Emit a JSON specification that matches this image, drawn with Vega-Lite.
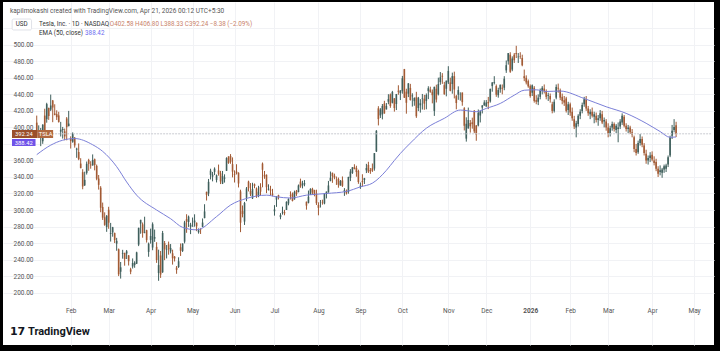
{
  "$schema": "https://vega.github.io/schema/vega-lite/v6.json",
  "width": 711,
  "height": 343,
  "autosize": {"type": "none"},
  "padding": {"left": 3, "top": 2, "right": 6, "bottom": 6},
  "background": "#000000",
  "config": {"view": {"fill": "#ffffff", "stroke": null}, "font": "Roboto", "axis": {"labelOverlap": false}},
  "title": {"text": "kapilmokashi created with TradingView.com, Apr 21, 2026 00:12 UTC+5:30", "anchor": "start", "frame": "group", "orient": "top", "offset": 0, "dy": 12, "dx": 7, "fontSize": 6.5, "fontWeight": "normal", "color": "#555555", "font": "Roboto"},
  "datasets": {
    "candles": [
      {"d":"2025-01-07","i":-17,"o":405.8,"h":414.3,"l":390.0,"c":394.4},
      {"d":"2025-01-08","i":-16,"o":393.0,"h":402.5,"l":387.4,"c":394.9},
      {"d":"2025-01-10","i":-15,"o":391.4,"h":399.3,"l":377.3,"c":394.7},
      {"d":"2025-01-13","i":-14,"o":383.2,"h":403.8,"l":380.1,"c":403.3},
      {"d":"2025-01-14","i":-13,"o":414.3,"h":422.6,"l":394.5,"c":396.4},
      {"d":"2025-01-15","i":-12,"o":409.9,"h":429.8,"l":405.7,"c":428.2},
      {"d":"2025-01-16","i":-11,"o":423.5,"h":424.0,"l":409.1,"c":413.8},
      {"d":"2025-01-17","i":-10,"o":421.5,"h":439.7,"l":419.8,"c":426.5},
      {"d":"2025-01-21","i":-9,"o":432.6,"h":433.2,"l":406.3,"c":424.1},
      {"d":"2025-01-22","i":-8,"o":416.8,"h":428.0,"l":414.6,"c":415.1},
      {"d":"2025-01-23","i":-7,"o":416.1,"h":420.7,"l":409.0,"c":412.4},
      {"d":"2025-01-24","i":-6,"o":414.5,"h":418.9,"l":405.8,"c":406.6},
      {"d":"2025-01-27","i":-5,"o":394.8,"h":406.7,"l":389.0,"c":397.2},
      {"d":"2025-01-28","i":-4,"o":396.9,"h":400.6,"l":386.5,"c":398.1},
      {"d":"2025-01-29","i":-3,"o":395.2,"h":398.6,"l":384.5,"c":389.1},
      {"d":"2025-01-30","i":-2,"o":410.8,"h":412.5,"l":384.4,"c":400.3},
      {"d":"2025-01-31","i":-1,"o":401.5,"h":420.0,"l":401.3,"c":404.6},
      {"d":"2025-02-03","i":0,"o":386.7,"h":389.2,"l":374.4,"c":383.7},
      {"d":"2025-02-04","i":1,"o":382.6,"h":394.0,"l":381.4,"c":392.2},
      {"d":"2025-02-05","i":2,"o":387.5,"h":388.4,"l":375.5,"c":378.2},
      {"d":"2025-02-06","i":3,"o":373.0,"h":375.4,"l":363.2,"c":374.3},
      {"d":"2025-02-07","i":4,"o":370.2,"h":380.6,"l":360.3,"c":361.6},
      {"d":"2025-02-10","i":5,"o":356.2,"h":362.7,"l":350.5,"c":350.7},
      {"d":"2025-02-11","i":6,"o":345.8,"h":349.4,"l":325.1,"c":328.5},
      {"d":"2025-02-12","i":7,"o":329.9,"h":346.4,"l":329.1,"c":336.5},
      {"d":"2025-02-13","i":8,"o":345.0,"h":358.7,"l":342.9,"c":355.9},
      {"d":"2025-02-14","i":9,"o":360.6,"h":362.0,"l":347.5,"c":355.8},
      {"d":"2025-02-18","i":10,"o":355.0,"h":359.1,"l":350.0,"c":354.1},
      {"d":"2025-02-19","i":11,"o":354.0,"h":367.3,"l":353.7,"c":360.6},
      {"d":"2025-02-20","i":12,"o":361.5,"h":362.3,"l":348.0,"c":354.4},
      {"d":"2025-02-21","i":13,"o":353.4,"h":355.0,"l":336.0,"c":337.8},
      {"d":"2025-02-24","i":14,"o":338.1,"h":342.4,"l":324.7,"c":330.5},
      {"d":"2025-02-25","i":15,"o":327.0,"h":328.9,"l":297.3,"c":302.8},
      {"d":"2025-02-26","i":16,"o":303.7,"h":309.0,"l":288.0,"c":290.8},
      {"d":"2025-02-27","i":17,"o":291.2,"h":297.2,"l":280.9,"c":282.0},
      {"d":"2025-02-28","i":18,"o":279.5,"h":293.9,"l":273.6,"c":293.0},
      {"d":"2025-03-03","i":19,"o":300.3,"h":303.9,"l":277.3,"c":284.7},
      {"d":"2025-03-04","i":20,"o":270.9,"h":284.4,"l":261.8,"c":272.0},
      {"d":"2025-03-05","i":21,"o":272.9,"h":279.6,"l":267.7,"c":279.1},
      {"d":"2025-03-06","i":22,"o":272.1,"h":272.7,"l":260.0,"c":263.5},
      {"d":"2025-03-07","i":23,"o":259.3,"h":266.3,"l":250.7,"c":262.7},
      {"d":"2025-03-10","i":24,"o":252.5,"h":253.4,"l":220.0,"c":222.2},
      {"d":"2025-03-11","i":25,"o":225.3,"h":237.1,"l":217.0,"c":230.6},
      {"d":"2025-03-12","i":26,"o":247.2,"h":251.8,"l":241.1,"c":248.1},
      {"d":"2025-03-13","i":27,"o":248.1,"h":248.3,"l":232.6,"c":240.7},
      {"d":"2025-03-14","i":28,"o":247.3,"h":251.6,"l":240.7,"c":250.0},
      {"d":"2025-03-17","i":29,"o":245.1,"h":245.4,"l":232.8,"c":238.0},
      {"d":"2025-03-18","i":30,"o":228.2,"h":230.1,"l":222.3,"c":225.3},
      {"d":"2025-03-19","i":31,"o":231.6,"h":241.4,"l":229.2,"c":235.9},
      {"d":"2025-03-20","i":32,"o":233.4,"h":238.0,"l":230.1,"c":236.3},
      {"d":"2025-03-21","i":33,"o":235.0,"h":249.5,"l":234.6,"c":248.7},
      {"d":"2025-03-24","i":34,"o":258.1,"h":278.6,"l":256.3,"c":278.4},
      {"d":"2025-03-25","i":35,"o":283.6,"h":288.2,"l":271.3,"c":288.1},
      {"d":"2025-03-26","i":36,"o":282.7,"h":284.9,"l":266.5,"c":272.1},
      {"d":"2025-03-27","i":37,"o":272.5,"h":291.9,"l":271.8,"c":273.1},
      {"d":"2025-03-28","i":38,"o":275.6,"h":276.1,"l":260.6,"c":263.6},
      {"d":"2025-03-31","i":39,"o":249.3,"h":260.6,"l":243.4,"c":259.2},
      {"d":"2025-04-01","i":40,"o":263.8,"h":277.5,"l":259.3,"c":268.5},
      {"d":"2025-04-02","i":41,"o":254.6,"h":285.0,"l":251.3,"c":282.8},
      {"d":"2025-04-03","i":42,"o":265.3,"h":276.3,"l":261.5,"c":267.3},
      {"d":"2025-04-04","i":43,"o":255.4,"h":261.0,"l":236.0,"c":239.4},
      {"d":"2025-04-07","i":44,"o":223.8,"h":252.0,"l":214.3,"c":233.3},
      {"d":"2025-04-08","i":45,"o":245.0,"h":250.4,"l":217.8,"c":221.9},
      {"d":"2025-04-09","i":46,"o":224.7,"h":274.7,"l":223.9,"c":272.2},
      {"d":"2025-04-10","i":47,"o":260.0,"h":262.5,"l":239.3,"c":252.4},
      {"d":"2025-04-11","i":48,"o":251.8,"h":257.7,"l":241.4,"c":252.3},
      {"d":"2025-04-14","i":49,"o":258.4,"h":261.8,"l":245.9,"c":252.4},
      {"d":"2025-04-15","i":50,"o":249.9,"h":258.8,"l":247.5,"c":254.1},
      {"d":"2025-04-16","i":51,"o":247.6,"h":252.0,"l":233.9,"c":241.6},
      {"d":"2025-04-17","i":52,"o":243.5,"h":244.3,"l":237.7,"c":241.4},
      {"d":"2025-04-21","i":53,"o":230.3,"h":232.2,"l":222.8,"c":227.5},
      {"d":"2025-04-22","i":54,"o":231.0,"h":242.8,"l":229.9,"c":238.0},
      {"d":"2025-04-23","i":55,"o":254.9,"h":259.5,"l":244.4,"c":250.7},
      {"d":"2025-04-24","i":56,"o":250.5,"h":259.5,"l":249.2,"c":259.5},
      {"d":"2025-04-25","i":57,"o":261.7,"h":286.9,"l":259.6,"c":285.0},
      {"d":"2025-04-28","i":58,"o":289.0,"h":294.9,"l":272.4,"c":285.9},
      {"d":"2025-04-29","i":59,"o":285.5,"h":293.3,"l":279.5,"c":292.0},
      {"d":"2025-04-30","i":60,"o":279.9,"h":284.5,"l":270.8,"c":282.2},
      {"d":"2025-05-01","i":61,"o":280.0,"h":290.9,"l":279.8,"c":280.5},
      {"d":"2025-05-02","i":62,"o":284.9,"h":294.8,"l":279.8,"c":287.2},
      {"d":"2025-05-05","i":63,"o":284.6,"h":284.9,"l":274.4,"c":280.3},
      {"d":"2025-05-06","i":64,"o":273.1,"h":277.7,"l":271.4,"c":275.4},
      {"d":"2025-05-07","i":65,"o":276.9,"h":277.9,"l":271.0,"c":276.2},
      {"d":"2025-05-08","i":66,"o":279.6,"h":289.8,"l":279.4,"c":284.8},
      {"d":"2025-05-09","i":67,"o":290.2,"h":307.0,"l":290.0,"c":298.3},
      {"d":"2025-05-12","i":68,"o":322.0,"h":322.2,"l":311.5,"c":318.4},
      {"d":"2025-05-13","i":69,"o":320.0,"h":337.6,"l":316.8,"c":334.1},
      {"d":"2025-05-14","i":70,"o":342.5,"h":350.0,"l":337.0,"c":347.7},
      {"d":"2025-05-15","i":71,"o":340.3,"h":346.1,"l":334.7,"c":342.8},
      {"d":"2025-05-16","i":72,"o":346.2,"h":351.6,"l":342.3,"c":350.0},
      {"d":"2025-05-19","i":73,"o":336.3,"h":343.0,"l":333.4,"c":342.1},
      {"d":"2025-05-20","i":74,"o":347.9,"h":355.0,"l":341.6,"c":343.8},
      {"d":"2025-05-21","i":75,"o":344.4,"h":347.4,"l":331.4,"c":334.6},
      {"d":"2025-05-22","i":76,"o":331.9,"h":347.3,"l":331.4,"c":341.0},
      {"d":"2025-05-23","i":77,"o":337.9,"h":343.2,"l":333.2,"c":339.3},
      {"d":"2025-05-27","i":78,"o":347.4,"h":363.8,"l":347.3,"c":362.9},
      {"d":"2025-05-28","i":79,"o":364.8,"h":365.0,"l":355.9,"c":356.9},
      {"d":"2025-05-29","i":80,"o":365.3,"h":367.7,"l":356.0,"c":358.4},
      {"d":"2025-05-30","i":81,"o":355.5,"h":363.7,"l":339.5,"c":346.5},
      {"d":"2025-06-02","i":82,"o":343.5,"h":348.0,"l":333.3,"c":342.7},
      {"d":"2025-06-03","i":83,"o":346.6,"h":355.4,"l":343.0,"c":344.3},
      {"d":"2025-06-04","i":84,"o":345.1,"h":345.6,"l":327.3,"c":332.1},
      {"d":"2025-06-05","i":85,"o":322.5,"h":324.6,"l":273.2,"c":284.7},
      {"d":"2025-06-06","i":86,"o":298.8,"h":305.5,"l":291.1,"c":295.1},
      {"d":"2025-06-09","i":87,"o":286.0,"h":309.8,"l":281.9,"c":308.6},
      {"d":"2025-06-10","i":88,"o":314.9,"h":327.8,"l":310.7,"c":326.1},
      {"d":"2025-06-11","i":89,"o":334.4,"h":335.5,"l":322.5,"c":326.4},
      {"d":"2025-06-12","i":90,"o":323.1,"h":332.6,"l":316.9,"c":319.1},
      {"d":"2025-06-13","i":91,"o":314.0,"h":333.0,"l":313.3,"c":325.3},
      {"d":"2025-06-16","i":92,"o":331.3,"h":332.1,"l":326.4,"c":329.1},
      {"d":"2025-06-17","i":93,"o":326.1,"h":327.3,"l":314.7,"c":316.4},
      {"d":"2025-06-18","i":94,"o":317.3,"h":329.3,"l":315.5,"c":322.1},
      {"d":"2025-06-20","i":95,"o":328.0,"h":332.4,"l":317.8,"c":322.2},
      {"d":"2025-06-23","i":96,"o":356.2,"h":357.5,"l":327.5,"c":348.7},
      {"d":"2025-06-24","i":97,"o":342.7,"h":347.3,"l":337.8,"c":340.5},
      {"d":"2025-06-25","i":98,"o":342.7,"h":343.0,"l":320.4,"c":327.6},
      {"d":"2025-06-26","i":99,"o":324.6,"h":331.1,"l":323.6,"c":325.8},
      {"d":"2025-06-27","i":100,"o":324.5,"h":329.3,"l":317.5,"c":323.6},
      {"d":"2025-06-30","i":101,"o":319.9,"h":325.6,"l":316.6,"c":317.7},
      {"d":"2025-07-01","i":102,"o":298.5,"h":305.9,"l":293.2,"c":300.7},
      {"d":"2025-07-02","i":103,"o":312.6,"h":316.8,"l":303.8,"c":315.7},
      {"d":"2025-07-03","i":104,"o":318.0,"h":318.5,"l":312.8,"c":315.4},
      {"d":"2025-07-07","i":105,"o":291.4,"h":296.2,"l":288.8,"c":293.9},
      {"d":"2025-07-08","i":106,"o":297.0,"h":304.1,"l":294.4,"c":297.8},
      {"d":"2025-07-09","i":107,"o":297.6,"h":300.2,"l":293.6,"c":295.9},
      {"d":"2025-07-10","i":108,"o":300.1,"h":310.5,"l":300.0,"c":309.9},
      {"d":"2025-07-11","i":109,"o":307.9,"h":314.1,"l":305.7,"c":313.5},
      {"d":"2025-07-14","i":110,"o":317.7,"h":322.6,"l":312.7,"c":316.9},
      {"d":"2025-07-15","i":111,"o":319.7,"h":321.2,"l":310.5,"c":310.8},
      {"d":"2025-07-16","i":112,"o":312.8,"h":323.5,"l":312.6,"c":321.7},
      {"d":"2025-07-17","i":113,"o":323.2,"h":324.3,"l":317.1,"c":319.4},
      {"d":"2025-07-18","i":114,"o":321.7,"h":330.9,"l":321.4,"c":329.7},
      {"d":"2025-07-21","i":115,"o":334.4,"h":338.0,"l":326.9,"c":328.5},
      {"d":"2025-07-22","i":116,"o":329.7,"h":335.4,"l":326.2,"c":332.1},
      {"d":"2025-07-23","i":117,"o":330.9,"h":336.2,"l":328.7,"c":332.6},
      {"d":"2025-07-24","i":118,"o":310.0,"h":310.2,"l":300.4,"c":305.3},
      {"d":"2025-07-25","i":119,"o":308.7,"h":323.6,"l":308.0,"c":316.1},
      {"d":"2025-07-28","i":120,"o":318.5,"h":326.3,"l":318.3,"c":325.6},
      {"d":"2025-07-29","i":121,"o":325.6,"h":326.9,"l":318.3,"c":321.2},
      {"d":"2025-07-30","i":122,"o":324.2,"h":324.5,"l":316.6,"c":319.0},
      {"d":"2025-07-31","i":123,"o":319.6,"h":324.6,"l":306.1,"c":308.3},
      {"d":"2025-08-01","i":124,"o":306.2,"h":309.3,"l":293.6,"c":302.6},
      {"d":"2025-08-04","i":125,"o":309.1,"h":312.1,"l":303.0,"c":309.3},
      {"d":"2025-08-05","i":126,"o":309.0,"h":312.5,"l":306.5,"c":308.7},
      {"d":"2025-08-06","i":127,"o":307.9,"h":320.5,"l":306.9,"c":319.9},
      {"d":"2025-08-07","i":128,"o":319.8,"h":322.3,"l":314.0,"c":322.3},
      {"d":"2025-08-08","i":129,"o":321.4,"h":335.2,"l":321.0,"c":329.7},
      {"d":"2025-08-11","i":130,"o":335.0,"h":346.6,"l":334.8,"c":339.0},
      {"d":"2025-08-12","i":131,"o":345.0,"h":345.3,"l":332.9,"c":340.8},
      {"d":"2025-08-13","i":132,"o":341.5,"h":344.0,"l":337.2,"c":339.4},
      {"d":"2025-08-14","i":133,"o":335.8,"h":340.5,"l":330.4,"c":335.6},
      {"d":"2025-08-15","i":134,"o":337.7,"h":339.3,"l":327.0,"c":330.6},
      {"d":"2025-08-18","i":135,"o":329.6,"h":336.3,"l":329.6,"c":335.2},
      {"d":"2025-08-19","i":136,"o":335.8,"h":340.6,"l":327.9,"c":329.3},
      {"d":"2025-08-20","i":137,"o":322.3,"h":326.5,"l":317.1,"c":323.9},
      {"d":"2025-08-21","i":138,"o":322.1,"h":324.9,"l":318.7,"c":320.1},
      {"d":"2025-08-22","i":139,"o":321.7,"h":340.3,"l":319.7,"c":340.0},
      {"d":"2025-08-25","i":140,"o":338.9,"h":349.5,"l":335.0,"c":346.6},
      {"d":"2025-08-26","i":141,"o":344.9,"h":351.9,"l":343.7,"c":351.7},
      {"d":"2025-08-27","i":142,"o":351.9,"h":355.4,"l":349.2,"c":349.6},
      {"d":"2025-08-28","i":143,"o":350.9,"h":353.6,"l":340.3,"c":346.0},
      {"d":"2025-08-29","i":144,"o":347.2,"h":348.8,"l":331.7,"c":333.9},
      {"d":"2025-09-02","i":145,"o":328.2,"h":333.3,"l":325.6,"c":329.4},
      {"d":"2025-09-03","i":146,"o":335.2,"h":343.3,"l":328.5,"c":334.1},
      {"d":"2025-09-04","i":147,"o":336.2,"h":338.9,"l":331.5,"c":338.5},
      {"d":"2025-09-05","i":148,"o":348.0,"h":355.9,"l":344.7,"c":350.8},
      {"d":"2025-09-08","i":149,"o":354.6,"h":358.4,"l":344.8,"c":346.4},
      {"d":"2025-09-09","i":150,"o":348.4,"h":350.8,"l":343.8,"c":347.0},
      {"d":"2025-09-10","i":151,"o":350.6,"h":356.3,"l":346.1,"c":347.8},
      {"d":"2025-09-11","i":152,"o":350.2,"h":369.0,"l":347.6,"c":368.8},
      {"d":"2025-09-12","i":153,"o":370.9,"h":396.7,"l":370.2,"c":395.9},
      {"d":"2025-09-15","i":154,"o":423.1,"h":425.7,"l":402.4,"c":410.0},
      {"d":"2025-09-16","i":155,"o":414.5,"h":423.3,"l":411.4,"c":421.6},
      {"d":"2025-09-17","i":156,"o":415.8,"h":428.3,"l":409.7,"c":425.9},
      {"d":"2025-09-18","i":157,"o":428.9,"h":432.2,"l":416.6,"c":416.9},
      {"d":"2025-09-19","i":158,"o":421.8,"h":429.5,"l":421.7,"c":426.1},
      {"d":"2025-09-22","i":159,"o":431.1,"h":440.2,"l":428.0,"c":434.2},
      {"d":"2025-09-23","i":160,"o":439.9,"h":441.0,"l":423.7,"c":425.9},
      {"d":"2025-09-24","i":161,"o":429.8,"h":444.2,"l":429.0,"c":442.8},
      {"d":"2025-09-25","i":162,"o":435.2,"h":435.4,"l":419.1,"c":423.4},
      {"d":"2025-09-26","i":163,"o":428.3,"h":440.5,"l":421.0,"c":440.4},
      {"d":"2025-09-29","i":164,"o":444.4,"h":451.0,"l":439.5,"c":443.2},
      {"d":"2025-09-30","i":165,"o":441.5,"h":445.0,"l":433.1,"c":444.7},
      {"d":"2025-10-01","i":166,"o":443.8,"h":462.3,"l":440.8,"c":459.5},
      {"d":"2025-10-02","i":167,"o":470.5,"h":470.8,"l":435.6,"c":436.0},
      {"d":"2025-10-03","i":168,"o":443.3,"h":446.8,"l":416.6,"c":429.8},
      {"d":"2025-10-06","i":169,"o":440.8,"h":453.6,"l":436.7,"c":453.3},
      {"d":"2025-10-07","i":170,"o":447.8,"h":452.7,"l":432.5,"c":433.1},
      {"d":"2025-10-08","i":171,"o":437.6,"h":441.3,"l":425.2,"c":438.7},
      {"d":"2025-10-09","i":172,"o":431.8,"h":436.4,"l":426.2,"c":435.5},
      {"d":"2025-10-10","i":173,"o":436.5,"h":443.1,"l":411.5,"c":413.5},
      {"d":"2025-10-13","i":174,"o":423.5,"h":436.9,"l":419.7,"c":435.9},
      {"d":"2025-10-14","i":175,"o":426.8,"h":434.2,"l":417.9,"c":429.2},
      {"d":"2025-10-15","i":176,"o":434.7,"h":440.5,"l":421.6,"c":435.2},
      {"d":"2025-10-16","i":177,"o":434.7,"h":439.4,"l":421.3,"c":428.8},
      {"d":"2025-10-17","i":178,"o":432.1,"h":441.1,"l":421.9,"c":439.3},
      {"d":"2025-10-20","i":179,"o":443.9,"h":449.8,"l":434.2,"c":447.4},
      {"d":"2025-10-21","i":180,"o":445.8,"h":449.3,"l":442.1,"c":442.6},
      {"d":"2025-10-22","i":181,"o":443.1,"h":445.9,"l":429.1,"c":439.0},
      {"d":"2025-10-23","i":182,"o":420.0,"h":449.4,"l":413.9,"c":449.0},
      {"d":"2025-10-24","i":183,"o":446.8,"h":451.7,"l":430.2,"c":433.7},
      {"d":"2025-10-27","i":184,"o":440.0,"h":460.2,"l":438.7,"c":452.4},
      {"d":"2025-10-28","i":185,"o":454.8,"h":467.0,"l":451.6,"c":460.6},
      {"d":"2025-10-29","i":186,"o":462.5,"h":465.7,"l":452.7,"c":461.5},
      {"d":"2025-10-30","i":187,"o":451.1,"h":455.1,"l":439.6,"c":440.1},
      {"d":"2025-10-31","i":188,"o":446.8,"h":456.6,"l":437.6,"c":456.6},
      {"d":"2025-11-03","i":189,"o":454.5,"h":474.1,"l":452.5,"c":468.4},
      {"d":"2025-11-04","i":190,"o":454.5,"h":460.2,"l":443.7,"c":444.3},
      {"d":"2025-11-05","i":191,"o":452.5,"h":466.3,"l":440.8,"c":462.1},
      {"d":"2025-11-06","i":192,"o":462.0,"h":467.5,"l":435.1,"c":445.9},
      {"d":"2025-11-07","i":193,"o":437.9,"h":439.4,"l":421.9,"c":429.5},
      {"d":"2025-11-10","i":194,"o":439.6,"h":449.7,"l":433.4,"c":445.2},
      {"d":"2025-11-11","i":195,"o":439.4,"h":442.5,"l":432.4,"c":439.6},
      {"d":"2025-11-12","i":196,"o":442.2,"h":442.3,"l":426.2,"c":430.6},
      {"d":"2025-11-13","i":197,"o":423.1,"h":424.5,"l":396.3,"c":402.0},
      {"d":"2025-11-14","i":198,"o":386.4,"h":412.2,"l":382.8,"c":404.4},
      {"d":"2025-11-17","i":199,"o":398.7,"h":424.0,"l":398.7,"c":408.9},
      {"d":"2025-11-18","i":200,"o":405.4,"h":408.9,"l":393.7,"c":401.3},
      {"d":"2025-11-19","i":201,"o":406.2,"h":411.8,"l":398.5,"c":404.0},
      {"d":"2025-11-20","i":202,"o":420.2,"h":421.0,"l":393.0,"c":395.2},
      {"d":"2025-11-21","i":203,"o":402.3,"h":402.9,"l":383.8,"c":391.1},
      {"d":"2025-11-24","i":204,"o":402.3,"h":421.7,"l":401.2,"c":417.8},
      {"d":"2025-11-25","i":205,"o":414.4,"h":420.5,"l":406.0,"c":419.4},
      {"d":"2025-11-26","i":206,"o":424.0,"h":426.9,"l":416.9,"c":426.6},
      {"d":"2025-11-28","i":207,"o":426.6,"h":432.9,"l":426.2,"c":430.2},
      {"d":"2025-12-01","i":208,"o":425.2,"h":433.1,"l":425.2,"c":430.1},
      {"d":"2025-12-02","i":209,"o":430.8,"h":436.9,"l":422.1,"c":429.2},
      {"d":"2025-12-03","i":210,"o":431.4,"h":446.8,"l":430.0,"c":446.7},
      {"d":"2025-12-04","i":211,"o":450.0,"h":454.6,"l":443.2,"c":454.5},
      {"d":"2025-12-05","i":212,"o":454.0,"h":462.0,"l":452.0,"c":455.0},
      {"d":"2025-12-08","i":213,"o":450.0,"h":452.0,"l":437.0,"c":439.6},
      {"d":"2025-12-09","i":214,"o":439.0,"h":448.0,"l":436.0,"c":445.2},
      {"d":"2025-12-10","i":215,"o":446.0,"h":452.0,"l":442.0,"c":451.5},
      {"d":"2025-12-11","i":216,"o":448.0,"h":452.0,"l":440.0,"c":446.9},
      {"d":"2025-12-12","i":217,"o":448.0,"h":462.0,"l":445.0,"c":459.0},
      {"d":"2025-12-15","i":218,"o":469.0,"h":481.0,"l":466.0,"c":475.3},
      {"d":"2025-12-16","i":219,"o":480.0,"h":490.0,"l":476.0,"c":489.9},
      {"d":"2025-12-17","i":220,"o":488.0,"h":491.0,"l":466.0,"c":467.3},
      {"d":"2025-12-18","i":221,"o":470.0,"h":486.0,"l":468.0,"c":483.4},
      {"d":"2025-12-19","i":222,"o":488.0,"h":490.0,"l":478.0,"c":481.2},
      {"d":"2025-12-22","i":223,"o":490.0,"h":498.8,"l":484.0,"c":488.7},
      {"d":"2025-12-23","i":224,"o":485.0,"h":490.0,"l":478.0,"c":485.6},
      {"d":"2025-12-24","i":225,"o":486.0,"h":491.0,"l":483.0,"c":485.4},
      {"d":"2025-12-26","i":226,"o":484.0,"h":488.0,"l":474.0,"c":475.2},
      {"d":"2025-12-29","i":227,"o":462.0,"h":470.0,"l":456.0,"c":459.6},
      {"d":"2025-12-30","i":228,"o":460.0,"h":463.0,"l":452.0,"c":454.4},
      {"d":"2025-12-31","i":229,"o":456.0,"h":458.0,"l":448.0,"c":449.7},
      {"d":"2026-01-02","i":230,"o":450,"h":452,"l":436,"c":438},
      {"d":"2026-01-05","i":231,"o":442,"h":452,"l":438,"c":451},
      {"d":"2026-01-06","i":232,"o":448,"h":450,"l":430,"c":432},
      {"d":"2026-01-07","i":233,"o":433,"h":439,"l":428,"c":431},
      {"d":"2026-01-08","i":234,"o":431,"h":440,"l":427,"c":436},
      {"d":"2026-01-09","i":235,"o":437,"h":447,"l":434,"c":445},
      {"d":"2026-01-12","i":236,"o":444,"h":450,"l":440,"c":448},
      {"d":"2026-01-13","i":237,"o":447,"h":452,"l":441,"c":444},
      {"d":"2026-01-14","i":238,"o":444,"h":446,"l":434,"c":437},
      {"d":"2026-01-15","i":239,"o":438,"h":442,"l":432,"c":439},
      {"d":"2026-01-16","i":240,"o":438,"h":441,"l":430,"c":434},
      {"d":"2026-01-20","i":241,"o":428,"h":431,"l":417,"c":420},
      {"d":"2026-01-21","i":242,"o":420,"h":434,"l":418,"c":431},
      {"d":"2026-01-22","i":243,"o":436,"h":452,"l":434,"c":449},
      {"d":"2026-01-23","i":244,"o":448,"h":453,"l":442,"c":447},
      {"d":"2026-01-26","i":245,"o":445,"h":447,"l":433,"c":436},
      {"d":"2026-01-27","i":246,"o":437,"h":441,"l":428,"c":432},
      {"d":"2026-01-28","i":247,"o":433,"h":438,"l":426,"c":430},
      {"d":"2026-01-29","i":248,"o":435,"h":437,"l":418,"c":420},
      {"d":"2026-01-30","i":249,"o":421,"h":431,"l":415,"c":428},
      {"d":"2026-02-02","i":250,"o":428,"h":430,"l":414,"c":418},
      {"d":"2026-02-03","i":251,"o":419,"h":424,"l":408,"c":411},
      {"d":"2026-02-04","i":252,"o":410,"h":414,"l":398,"c":401},
      {"d":"2026-02-05","i":253,"o":400,"h":408,"l":388,"c":405},
      {"d":"2026-02-06","i":254,"o":404,"h":416,"l":401,"c":414},
      {"d":"2026-02-09","i":255,"o":414,"h":422,"l":410,"c":419},
      {"d":"2026-02-10","i":256,"o":420,"h":430,"l":417,"c":427},
      {"d":"2026-02-11","i":257,"o":428,"h":437,"l":425,"c":434},
      {"d":"2026-02-12","i":258,"o":434,"h":438,"l":420,"c":423},
      {"d":"2026-02-13","i":259,"o":423,"h":426,"l":414,"c":417},
      {"d":"2026-02-17","i":260,"o":416,"h":422,"l":410,"c":419},
      {"d":"2026-02-18","i":261,"o":419,"h":424,"l":412,"c":414},
      {"d":"2026-02-19","i":262,"o":413,"h":419,"l":405,"c":416},
      {"d":"2026-02-20","i":263,"o":414,"h":418,"l":406,"c":409},
      {"d":"2026-02-23","i":264,"o":409,"h":415,"l":402,"c":411},
      {"d":"2026-02-24","i":265,"o":411,"h":421,"l":408,"c":417},
      {"d":"2026-02-25","i":266,"o":416,"h":420,"l":404,"c":406},
      {"d":"2026-02-26","i":267,"o":407,"h":412,"l":400,"c":409},
      {"d":"2026-02-27","i":268,"o":407,"h":410,"l":396,"c":400},
      {"d":"2026-03-02","i":269,"o":400,"h":405,"l":388,"c":392},
      {"d":"2026-03-03","i":270,"o":393,"h":402,"l":389,"c":399},
      {"d":"2026-03-04","i":271,"o":400,"h":407,"l":396,"c":404},
      {"d":"2026-03-05","i":272,"o":404,"h":406,"l":395,"c":398},
      {"d":"2026-03-06","i":273,"o":397,"h":404,"l":393,"c":402},
      {"d":"2026-03-09","i":274,"o":398,"h":406,"l":382,"c":400},
      {"d":"2026-03-10","i":275,"o":401,"h":410,"l":398,"c":407},
      {"d":"2026-03-11","i":276,"o":406,"h":417,"l":403,"c":414},
      {"d":"2026-03-12","i":277,"o":413,"h":415,"l":400,"c":402},
      {"d":"2026-03-13","i":278,"o":402,"h":405,"l":395,"c":398},
      {"d":"2026-03-16","i":279,"o":398,"h":403,"l":393,"c":400},
      {"d":"2026-03-17","i":280,"o":400,"h":402,"l":392,"c":394},
      {"d":"2026-03-18","i":281,"o":394,"h":398,"l":388,"c":391},
      {"d":"2026-03-19","i":282,"o":388,"h":390,"l":370,"c":374},
      {"d":"2026-03-20","i":283,"o":374,"h":380,"l":366,"c":369},
      {"d":"2026-03-23","i":284,"o":370,"h":384,"l":368,"c":381},
      {"d":"2026-03-24","i":285,"o":381,"h":392,"l":378,"c":386},
      {"d":"2026-03-25","i":286,"o":386,"h":389,"l":376,"c":379},
      {"d":"2026-03-26","i":287,"o":378,"h":381,"l":366,"c":369},
      {"d":"2026-03-27","i":288,"o":368,"h":373,"l":356,"c":360},
      {"d":"2026-03-30","i":289,"o":360,"h":366,"l":355,"c":363},
      {"d":"2026-03-31","i":290,"o":363,"h":370,"l":358,"c":366},
      {"d":"2026-04-01","i":291,"o":367,"h":371,"l":359,"c":361},
      {"d":"2026-04-02","i":292,"o":360,"h":365,"l":354,"c":357},
      {"d":"2026-04-06","i":293,"o":358,"h":362,"l":347,"c":350},
      {"d":"2026-04-07","i":294,"o":350,"h":353,"l":340,"c":344},
      {"d":"2026-04-08","i":295,"o":346,"h":354,"l":342,"c":348},
      {"d":"2026-04-09","i":296,"o":345,"h":351,"l":339,"c":349},
      {"d":"2026-04-10","i":297,"o":349,"h":355,"l":345,"c":353},
      {"d":"2026-04-13","i":298,"o":350,"h":356,"l":346,"c":354},
      {"d":"2026-04-14","i":299,"o":355,"h":366,"l":352,"c":364},
      {"d":"2026-04-15","i":300,"o":366,"h":390,"l":364,"c":388},
      {"d":"2026-04-16","i":301,"o":390,"h":403,"l":386,"c":396},
      {"d":"2026-04-17","i":302,"o":397,"h":410,"l":394,"c":400.62},
      {"d":"2026-04-20","i":303,"o":402.58,"h":406.8,"l":388.33,"c":392.24}
    ],
    "ema": [
      {"i":-17,"ema":367},{"i":-10,"ema":378.5},{"i":-4,"ema":384.5},{"i":2,"ema":386.5},
      {"i":11,"ema":379},{"i":16,"ema":371},{"i":23,"ema":352.5},{"i":28,"ema":334},
      {"i":33,"ema":318},{"i":43,"ema":300},{"i":50,"ema":289.5},{"i":56,"ema":279},
      {"i":63,"ema":276},{"i":73,"ema":292},{"i":80,"ema":306},{"i":88,"ema":314},
      {"i":98,"ema":318},{"i":103,"ema":316},{"i":110,"ema":314.5},{"i":118,"ema":318},
      {"i":128,"ema":320},{"i":138,"ema":322.5},{"i":145,"ema":328},{"i":151,"ema":332.5},
      {"i":158,"ema":348},{"i":162,"ema":360},{"i":165,"ema":368.5},{"i":170,"ema":381},
      {"i":178,"ema":399},{"i":187,"ema":411},{"i":195,"ema":421},{"i":203,"ema":419},
      {"i":208,"ema":423},{"i":215,"ema":429},{"i":222,"ema":439},{"i":227,"ema":445},
      {"i":233,"ema":445.5},{"i":238,"ema":443.5},{"i":245,"ema":444},{"i":257,"ema":435},
      {"i":268,"ema":425},{"i":278,"ema":417},{"i":288,"ema":405},{"i":295,"ema":395},
      {"i":300,"ema":388},{"i":303,"ema":388.42}
    ]
  },
  "data": {"name": "candles"},
  "layer": [
    {
      "mark": {"type": "rule", "strokeWidth": 1},
      "encoding": {
        "x": {"field": "i", "type": "quantitative", "title": null,
          "scale": {"domain": [-33.88, 321.97], "nice": false, "zero": false, "padding": 0},
          "axis": {"orient": "bottom", "offset": -43, "title": null, "tickCount": 40, "zindex": 0,
            "values": [0,19,40,61,82,102,124,145,166,189,208,230,250,269,291,312],
            "labelExpr": "['Feb','Mar','Apr','May','Jun','Jul','Aug','Sep','Oct','Nov','Dec','2026','Feb','Mar','Apr','May'][indexof([0,19,40,61,82,102,124,145,166,189,208,230,250,269,291,312], datum.value)]",
            "domain": false, "ticks": false, "labelPadding": 5, "labelFontSize": 6.5, "labelColor": "#555555", "labelFont": "Roboto",
            "labelFontWeight": {"condition": {"test": "datum.value === 230", "value": "bold"}, "value": "normal"},
            "labelOverlap": false, "labelFlush": false,
            "grid": true, "gridColor": "#f1f2f5", "gridWidth": 1}},
        "y": {"field": "l", "type": "quantitative", "title": null,
          "scale": {"domain": [136.6, 551.8], "nice": false, "zero": false, "padding": 0},
          "axis": {"orient": "left", "offset": -32, "title": null, "tickCount": 40, "zindex": 0,
            "values": [200,220,240,260,280,300,320,340,360,380,400,420,440,460,480,500,520],
            "labelExpr": "(datum.value > 500 || datum.value === 380) ? '' : format(datum.value, '.2f')",
            "labelOverlap": false, "labelFlush": false,
            "domain": false, "ticks": false, "labelPadding": 2, "labelFontSize": 6.5, "labelColor": "#555555", "labelFont": "Roboto",
            "grid": true, "gridColor": "#f1f2f5", "gridWidth": 1}},
        "y2": {"field": "h"},
        "color": {"condition": {"test": "datum.c >= datum.o", "value": "#3f5f5c"}, "value": "#a25a34"}
      }
    },
    {
      "mark": {"type": "bar", "width": 1.6},
      "encoding": {
        "x": {"field": "i", "type": "quantitative", "title": null},
        "y": {"field": "o", "type": "quantitative", "title": null},
        "y2": {"field": "c"},
        "color": {"condition": {"test": "datum.c >= datum.o", "value": "#3f5f5c"}, "value": "#a25a34"}
      }
    },
    {
      "data": {"values": [{}]},
      "mark": {"type": "rule", "color": "#c9cbd1", "strokeWidth": 1, "strokeDash": [2, 1]},
      "encoding": {"y": {"datum": 392.24}, "x": {"datum": -9.3}, "x2": {"datum": 321}}
    },
    {
      "data": {"name": "ema"},
      "mark": {"type": "line", "color": "#7b7fd8", "strokeWidth": 1, "interpolate": "monotone"},
      "encoding": {
        "x": {"field": "i", "type": "quantitative", "title": null},
        "y": {"field": "ema", "type": "quantitative", "title": null}
      }
    },
    {
      "data": {"values": [{}]},
      "mark": {"type": "rect", "fill": "#ffffff", "stroke": "#d3d6de", "strokeWidth": 0.7, "cornerRadius": 1.5},
      "encoding": {"x": {"datum": -29.3}, "x2": {"datum": -19.6}, "y": {"datum": 531.2}, "y2": {"datum": 517.9}}
    },
    {
      "data": {"values": [{}]},
      "mark": {"type": "text", "text": "USD", "fontSize": 6.3, "color": "#333333", "align": "center", "baseline": "middle"},
      "encoding": {"x": {"datum": -24.5}, "y": {"datum": 524.6}}
    },
    {
      "data": {"values": [{}]},
      "mark": {"type": "text", "text": "Tesla, Inc. · 1D · NASDAQ", "fontSize": 6.3, "color": "#333333", "align": "left", "baseline": "middle"},
      "encoding": {"x": {"datum": -15.85}, "y": {"datum": 524.6}}
    },
    {
      "data": {"values": [{}]},
      "mark": {"type": "text", "text": "O402.58  H406.80  L388.33  C392.24  −8.38 (−2.09%)", "fontSize": 6.3, "color": "#c9826b", "align": "left", "baseline": "middle"},
      "encoding": {"x": {"datum": 19.6}, "y": {"datum": 524.6}}
    },
    {
      "data": {"values": [{}]},
      "mark": {"type": "text", "text": "EMA (50, close)", "fontSize": 6.3, "color": "#333333", "align": "left", "baseline": "middle"},
      "encoding": {"x": {"datum": -15.85}, "y": {"datum": 513.7}}
    },
    {
      "data": {"values": [{}]},
      "mark": {"type": "text", "text": "388.42", "fontSize": 6.3, "color": "#6b6cf0", "align": "left", "baseline": "middle"},
      "encoding": {"x": {"datum": 7.2}, "y": {"datum": 513.7}}
    },
    {
      "data": {"values": [{}]},
      "mark": {"type": "rect", "fill": "#9a4f2b"},
      "encoding": {"x": {"datum": -29.38}, "x2": {"datum": -16.6}, "y": {"datum": 396.85}, "y2": {"datum": 387.17}}
    },
    {
      "data": {"values": [{}]},
      "mark": {"type": "rect", "fill": "#b0693f"},
      "encoding": {"x": {"datum": -16.6}, "x2": {"datum": -8.8}, "y": {"datum": 396.85}, "y2": {"datum": 387.17}}
    },
    {
      "data": {"values": [{}]},
      "mark": {"type": "rect", "fill": "#6f52e8"},
      "encoding": {"x": {"datum": -29.38}, "x2": {"datum": -17.6}, "y": {"datum": 385.96}, "y2": {"datum": 377.48}}
    },
    {
      "data": {"values": [{}]},
      "mark": {"type": "text", "text": "392.24", "fontSize": 5.8, "color": "#ffffff", "align": "center", "baseline": "middle"},
      "encoding": {"x": {"datum": -23.4}, "y": {"datum": 392.0}}
    },
    {
      "data": {"values": [{}]},
      "mark": {"type": "text", "text": "TSLA", "fontSize": 5.8, "color": "#ffffff", "align": "center", "baseline": "middle"},
      "encoding": {"x": {"datum": -12.5}, "y": {"datum": 392.0}}
    },
    {
      "data": {"values": [{}]},
      "mark": {"type": "text", "text": "388.42", "fontSize": 5.8, "color": "#ffffff", "align": "center", "baseline": "middle"},
      "encoding": {"x": {"datum": -23.5}, "y": {"datum": 381.7}}
    },
    {
      "data": {"values": [{}]},
      "mark": {"type": "text", "text": "17", "fontSize": 11, "fontWeight": 900, "font": "DejaVu Sans", "color": "#131722", "align": "left", "baseline": "middle"},
      "encoding": {"x": {"datum": -30.4}, "y": {"datum": 152.3}}
    },
    {
      "data": {"values": [{}]},
      "mark": {"type": "text", "text": "TradingView", "fontSize": 11, "fontWeight": "bold", "color": "#131722", "align": "left", "baseline": "middle"},
      "encoding": {"x": {"datum": -21.4}, "y": {"datum": 152.3}}
    }
  ]
}
